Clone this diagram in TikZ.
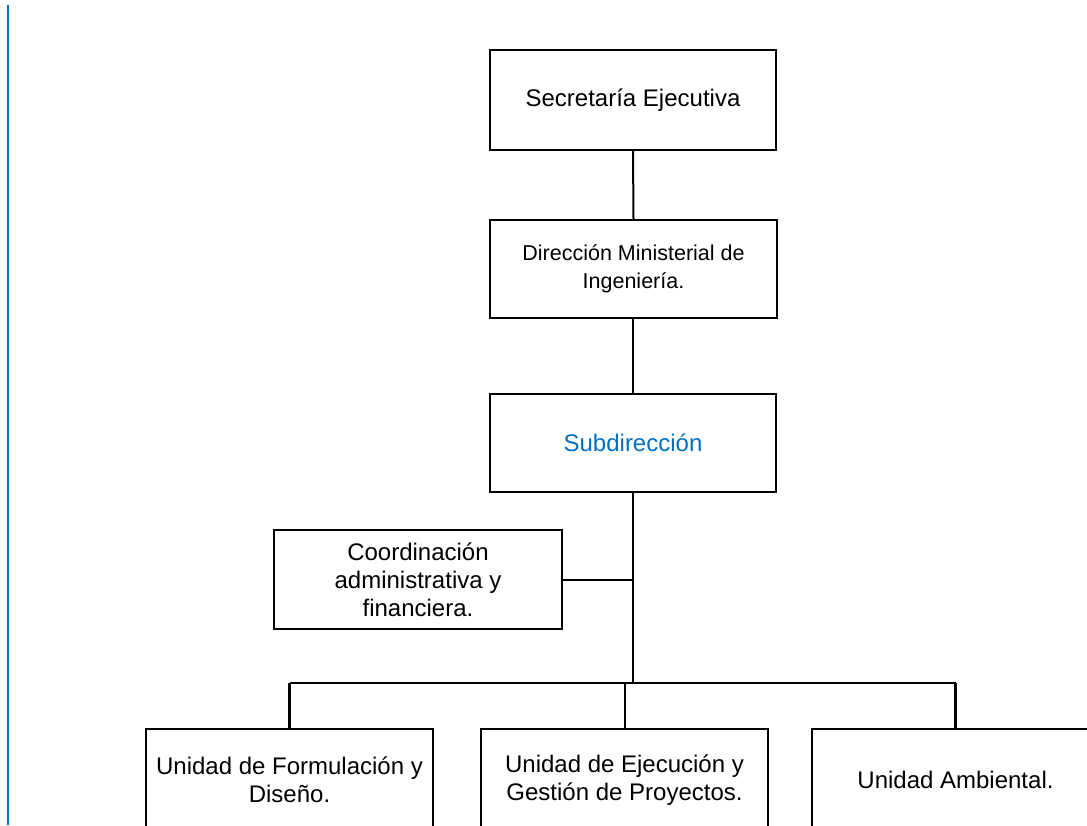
\documentclass[tikz,border=0pt]{standalone}
\usepackage{fontspec}
\setmainfont{Liberation Sans}
\definecolor{accentblue}{RGB}{0,112,192}
\begin{document}
\begin{tikzpicture}[x=1pt,y=-1pt,
  unitbox/.style={draw=black,line width=1.5pt,rectangle,align=center,inner sep=0pt,
    font=\fontsize{24}{28}\selectfont},
  link/.style={draw=black,line width=2.8pt},
  thinlink/.style={draw=black,line width=2pt}]
  \clip (0,0) rectangle (1087,825);
  \fill[white] (0,0) rectangle (1087,825);
  % margin rule on the left
  \draw[accentblue,line width=2pt] (8,5) -- (8,825);

  % chain of command
  \node[unitbox,minimum width=286pt,minimum height=100pt] (sec) at (633,100) {Secretaría Ejecutiva};
  \node[unitbox,minimum width=287pt,minimum height=98pt,font=\fontsize{21.5}{28}\selectfont] (dir) at (633.5,269) {Dirección Ministerial de\\Ingeniería.};
  \node[unitbox,minimum width=286pt,minimum height=98pt,text=accentblue] (sub) at (633,443) {Subdirección};
  \node[unitbox,minimum width=288pt,minimum height=99pt] (coord) at (418,579.5) {Coordinación\\administrativa y\\financiera.};

  % units at the bottom
  \node[unitbox,minimum width=287pt,minimum height=102pt] (ufd) at (289.5,780) {Unidad de Formulación y\\Diseño.};
  \node[unitbox,minimum width=287pt,minimum height=102pt] (uegp) at (624.5,780) {Unidad de Ejecución y\\Gestión de Proyectos.};
  \node[unitbox,minimum width=287pt,minimum height=102pt] (ua) at (955.5,780) {Unidad Ambiental.};

  \coordinate (branch) at (633,580);
  \coordinate (busend) at (633,683);
  \coordinate (busl) at (289.5,683);
  \coordinate (busm) at (624.5,683);
  \coordinate (busr) at (955.5,683);

  \draw[thinlink] (sec.south) -- (dir.north);
  \draw[link] (dir.south -| sub.north) -- (sub.north);
  \draw[link] (sub.south) -- (busend);
  \draw[thinlink] (coord.east |- branch) -- (branch);
  \draw[link,line join=miter] (busl) -- (busr);
  \draw[link] (busl) -- (ufd.north);
  \draw[thinlink] (busm) -- (uegp.north);
  \draw[link] (busr) -- (ua.north);
\end{tikzpicture}
\end{document}
